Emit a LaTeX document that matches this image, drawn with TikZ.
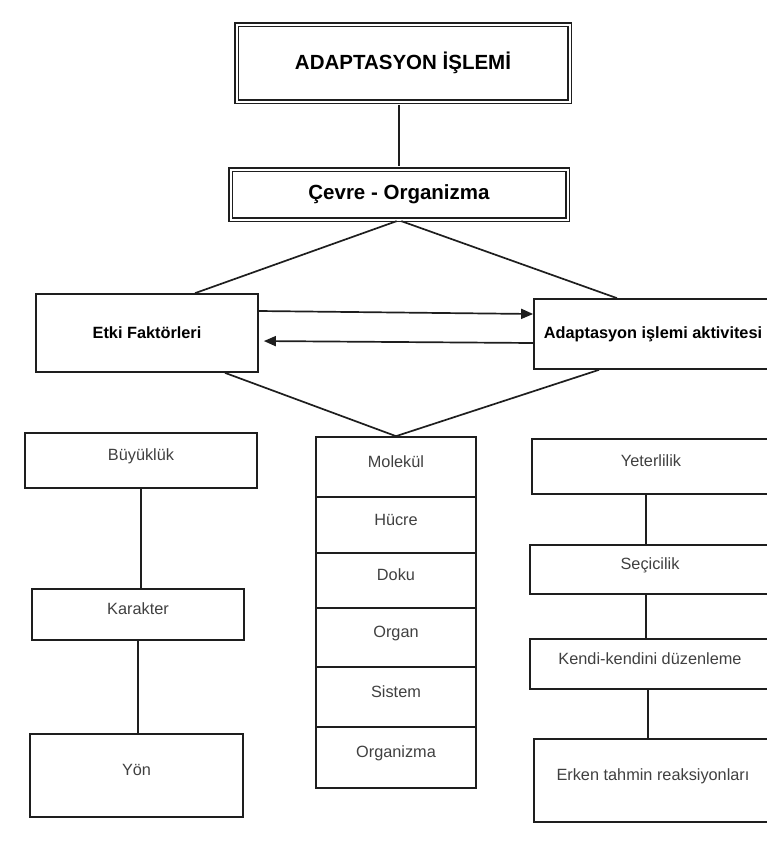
\documentclass[tikz,border=0pt]{standalone}
\usepackage{fontspec}
\setmainfont{Liberation Sans}
\usepackage{tikz}
\usetikzlibrary{arrows.meta, calc}
\definecolor{scanInk}{RGB}{30,30,30}

\tikzset{
  titleBox/.style={draw=scanInk, line width=1.6pt, double, double distance=2pt, inner sep=0pt, font=\bfseries\fontsize{20.5}{24}\selectfont},
  headBox/.style={draw=scanInk, line width=1.7pt, inner sep=0pt, font=\bfseries\fontsize{16.3}{19}\selectfont},
  levelBox/.style={draw=scanInk, line width=1.7pt, inner sep=0pt, text=scanInk!85, text height=12pt, text depth=12pt, font=\fontsize{16.3}{19}\selectfont},
  link/.style={draw=scanInk, line width=1.7pt},
  flow/.style={link, -{Triangle[length=12pt,width=10pt]}}
}

\begin{document}
\begin{tikzpicture}[x=1pt,y=-1pt]
	\useasboundingbox (0,0) rectangle (767,847);
	\clip (0,0) rectangle (767,847);
	% Top: process and environment
	\node[titleBox, minimum width=333, minimum height=77] (title) at (403,63) {ADAPTASYON İŞLEMİ};
	\node[titleBox, minimum width=337, minimum height=50] (cevre) at (399,194.5) {Çevre - Organizma};
	% Factors and activity
	\node[headBox, minimum width=222, minimum height=78] (etki) at (147,333) {Etki Faktörleri};
	\node[headBox, minimum width=238, minimum height=70] (adapt) at (653,334) {Adaptasyon işlemi aktivitesi};
	% Left column
	\node[levelBox, minimum width=232, minimum height=55] (buyukluk) at (141,460.5) {Büyüklük};
	\node[levelBox, minimum width=212, minimum height=51] (karakter) at (138,614.5) {Karakter};
	\node[levelBox, minimum width=213, minimum height=83] (yon) at (136.5,775.5) {Yön};
	% Middle column (levels of organisation)
	\node[levelBox, minimum width=160, minimum height=60] (molekul) at (396,467) {Molekül};
	\node[levelBox, minimum width=160, minimum height=56] (hucre) at (396,525) {Hücre};
	\node[levelBox, minimum width=160, minimum height=55] (doku) at (396,580.5) {Doku};
	\node[levelBox, minimum width=160, minimum height=59] (organ) at (396,637.5) {Organ};
	\node[levelBox, minimum width=160, minimum height=60] (sistem) at (396,697) {Sistem};
	\node[levelBox, minimum width=160, minimum height=61] (organizma) at (396,757.5) {Organizma};
	% Right column
	\node[levelBox, minimum width=238, minimum height=55] (yeter) at (651,466.5) {Yeterlilik};
	\node[levelBox, minimum width=240, minimum height=49] (secici) at (650,569.5) {Seçicilik};
	\node[levelBox, minimum width=240, minimum height=50] (kendi) at (650,664) {Kendi-kendini düzenleme};
	\node[levelBox, minimum width=238, minimum height=83] (erken) at (653,780.5) {Erken tahmin reaksiyonları};
	% Connectors
	\draw[link, shorten <=2.5pt, shorten >=2.5pt] (cevre.north |- title.south) -- (cevre.north);
	\draw[link, shorten <=2.5pt] (cevre.south) -- ($(etki.north)+(48,0)$);
	\draw[link, shorten <=2.5pt] (cevre.south) -- ($(adapt.north)+(-36,0)$);
	\draw[link] ($(etki.south)+(78,0)$) -- (molekul.north);
	\draw[link] ($(adapt.south)+(-54,0)$) -- (molekul.north);
	\draw[flow] ([yshift=22pt]etki.east) -- ([yshift=20pt]adapt.west);
	\draw[flow, shorten >=5pt] ([yshift=-9pt]adapt.west) -- ([yshift=-8pt]etki.east);
	\draw[link] (buyukluk.south) -- (buyukluk.south |- karakter.north);
	\draw[link] (karakter.south) -- (karakter.south |- yon.north);
	\draw[link] ($(yeter.south)+(-5,0)$) -- ($(yeter.south |- secici.north)+(-5,0)$);
	\draw[link] ($(secici.south)+(-4,0)$) -- ($(secici.south |- kendi.north)+(-4,0)$);
	\draw[link] ($(kendi.south)+(-2,0)$) -- ($(kendi.south |- erken.north)+(-2,0)$);
\end{tikzpicture}
\end{document}
